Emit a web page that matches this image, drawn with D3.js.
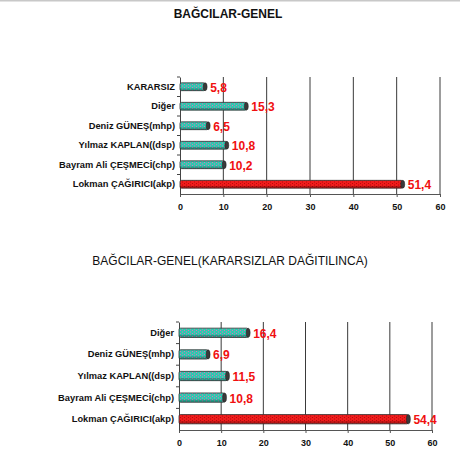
<!DOCTYPE html>
<html>
<head>
<meta charset="utf-8">
<script src="https://cdn.jsdelivr.net/npm/d3@7"></script>
<style>
  body { margin: 0; background: #fff; }
  text { font-family: Arial, "Liberation Sans", sans-serif; }
</style>
</head>
<body>
<svg id="chart" width="460" height="458"></svg>
<script>
// data
const categories1 = ["KARARSIZ", "Diğer", "Deniz GÜNEŞ(mhp)", "Yılmaz KAPLAN((dsp)", "Bayram Ali ÇEŞMECİ(chp)", "Lokman ÇAĞIRICI(akp)"];
const values1 = [5.8, 15.3, 6.5, 10.8, 10.2, 51.4];
const categories2 = ["Diğer", "Deniz GÜNEŞ(mhp)", "Yılmaz KAPLAN((dsp)", "Bayram Ali ÇEŞMECİ(chp)", "Lokman ÇAĞIRICI(akp)"];
const values2 = [16.4, 6.9, 11.5, 10.8, 54.4];
const xTicks = [0, 10, 20, 30, 40, 50, 60];
const title1 = "BAĞCILAR-GENEL";
const title2 = "BAĞCILAR-GENEL(KARARSIZLAR DAĞITILINCA)";
const highlight = "Lokman ÇAĞIRICI(akp)";

const svg = d3.select("#chart");

// thin grey line on top of the image
svg.append("rect").attr("x", 0).attr("y", 0).attr("width", 460).attr("height", 1.5).attr("fill", "#c8c8c8");

// patterns
const defs = svg.append("defs");
const mkPattern = (id, bg, dot) => {
  const p = defs.append("pattern").attr("id", id)
    .attr("patternUnits", "userSpaceOnUse").attr("width", 4).attr("height", 3);
  p.append("rect").attr("width", 4).attr("height", 3).attr("fill", bg);
  p.append("rect").attr("x", 0).attr("y", 0).attr("width", 1).attr("height", 1).attr("fill", dot);
  p.append("rect").attr("x", 2).attr("y", 1.5).attr("width", 1).attr("height", 1).attr("fill", dot);
};
mkPattern("teal", "#2ccaae", "#e070b8");
mkPattern("red", "#f01c1c", "#b80a0a");

const fmt = (v) => String(v).replace(".", ",");

const drawChart = (cfg) => {
  const { cats, vals, x0, x1, y0, y1, title, tx, ty, bold, barFrac } = cfg;
  const g = svg.append("g");

  const x = d3.scaleLinear().domain([0, 60]).range([x0, x1]);
  const y = d3.scaleBand().domain(cats).range([y0, y1]);
  const bh = y.bandwidth() * barFrac;

  // title
  g.append("text").attr("x", tx).attr("y", ty)
    .attr("text-anchor", "middle")
    .attr("font-size", 12).attr("font-weight", bold ? "bold" : "normal")
    .attr("fill", "#111").text(title);

  // gridlines
  g.selectAll(".grid").data(xTicks.slice(1)).join("line")
    .attr("x1", (d) => x(d)).attr("x2", (d) => x(d))
    .attr("y1", y0).attr("y2", y1)
    .attr("stroke", "#3a3a3a").attr("stroke-width", 1);

  // x axis
  const xa = g.append("g").attr("transform", `translate(0,${y1})`)
    .call(d3.axisBottom(x).tickValues(xTicks).tickSize(3).tickSizeOuter(0));
  xa.select(".domain").attr("stroke", "#555");
  xa.selectAll(".tick line").attr("stroke", "#555");
  xa.selectAll(".tick text").attr("y", 10).attr("font-size", 9)
    .attr("font-weight", "bold").attr("fill", "#111");

  // y axis
  const ya = g.append("g").attr("transform", `translate(${x0},0)`)
    .call(d3.axisLeft(y).tickSize(0).tickPadding(5));
  ya.select(".domain").attr("stroke", "#444");
  ya.selectAll(".tick text").attr("font-size", 9.3).attr("font-weight", "bold").attr("fill", "#111");
  // boundary ticks
  g.selectAll(".btick").data(cats).join("line")
    .attr("x1", x0 - 3).attr("x2", x0)
    .attr("y1", (d) => y(d)).attr("y2", (d) => y(d))
    .attr("stroke", "#444");

  const cy = (d) => y(d) + y.bandwidth() / 2;
  const data = cats.map((c, i) => ({ c, v: vals[i] }));

  // bars
  const bars = g.selectAll(".bar").data(data).join("g");
  bars.append("rect")
    .attr("x", x(0)).attr("y", (d) => cy(d.c) - bh / 2)
    .attr("width", (d) => x(d.v) - x(0)).attr("height", bh)
    .attr("rx", 1.5)
    .attr("fill", (d) => d.c === highlight ? "url(#red)" : "url(#teal)")
    .attr("stroke", "#333").attr("stroke-width", 0.8);
  // lower shading for cylinder look
  bars.append("rect")
    .attr("x", x(0)).attr("y", (d) => cy(d.c) + bh * 0.22)
    .attr("width", (d) => x(d.v) - x(0)).attr("height", bh * 0.28)
    .attr("fill", "#000").attr("opacity", 0.22);
  // end cap
  bars.append("ellipse")
    .attr("cx", (d) => x(d.v)).attr("cy", (d) => cy(d.c))
    .attr("rx", 2).attr("ry", bh / 2)
    .attr("fill", "#3a3a3a").attr("stroke", "#222").attr("stroke-width", 0.5);

  // value labels
  g.selectAll(".val").data(data).join("text")
    .attr("x", (d) => x(d.v) + 5).attr("y", (d) => cy(d.c) + 5)
    .attr("font-size", 12).attr("font-weight", "bold")
    .attr("fill", "#f01010").text((d) => fmt(d.v));
};

drawChart({ cats: categories1, vals: values1, x0: 180, x1: 440, y0: 77, y1: 194,
  title: title1, tx: 228, ty: 18, bold: true, barFrac: 0.4 });
drawChart({ cats: categories2, vals: values2, x0: 179, x1: 432, y0: 322, y1: 430,
  title: title2, tx: 230, ty: 265, bold: false, barFrac: 0.43 });
</script>
</body>
</html>
